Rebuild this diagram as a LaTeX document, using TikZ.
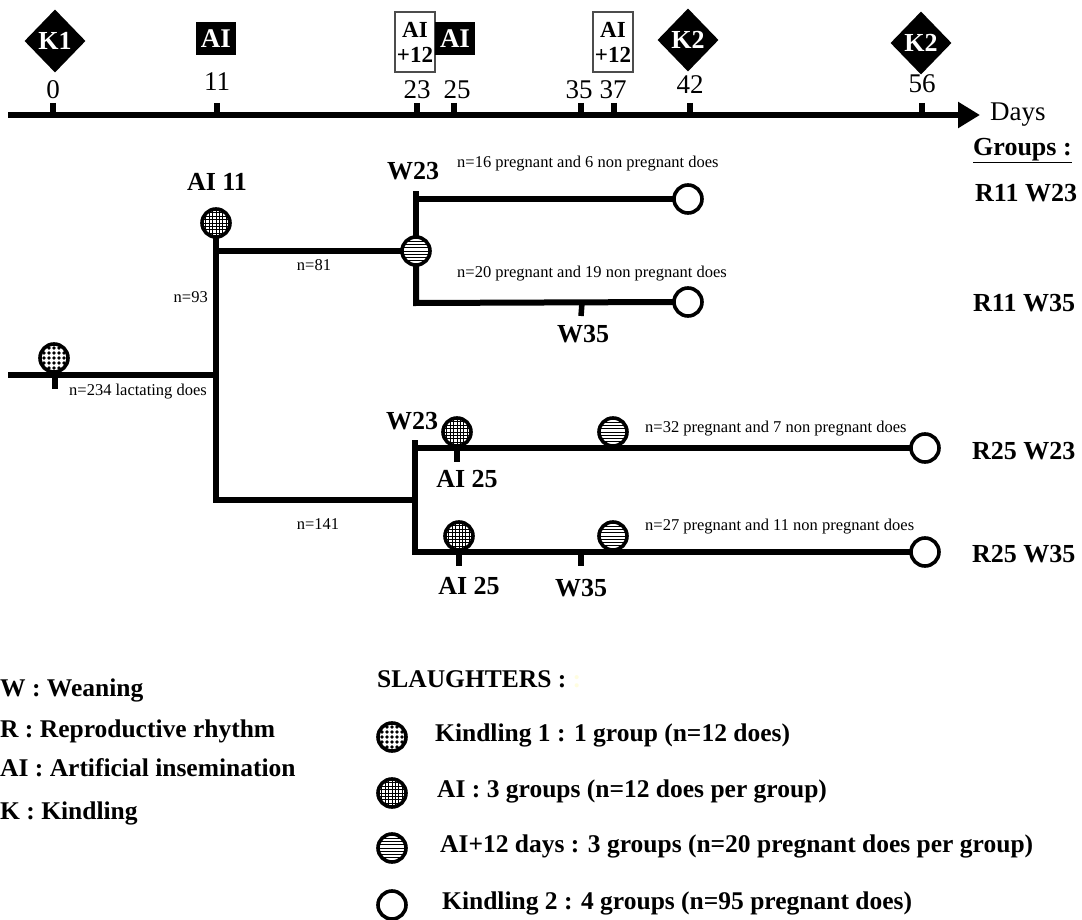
\documentclass[tikz,border=0pt]{standalone}
\usepackage{fontspec}
\setmainfont{Liberation Serif}
\usetikzlibrary{shapes.geometric,arrows.meta}
\begin{document}
\begin{tikzpicture}[x=1pt,y=-1pt,
  small/.style={font=\fontsize{16.5}{19}\selectfont, inner sep=0pt, text height=0.7em, text depth=0.2em},
  big/.style={font=\bfseries\fontsize{26}{30}\selectfont, inner sep=0pt, text height=0.66em, text depth=0pt},
  num/.style={font=\fontsize{27}{30}\selectfont, inner sep=0pt, text height=0.66em, text depth=0pt},
  leg/.style={font=\bfseries\fontsize{25.5}{30}\selectfont, inner sep=0pt, anchor=west, text height=0.66em, text depth=0pt},
  kbox/.style={diamond, fill=black, text=white, minimum width=61pt, minimum height=63pt, inner sep=0pt, font=\bfseries\fontsize{26}{26}\selectfont},
  aibox/.style={rectangle, fill=black, text=white, minimum width=40pt, minimum height=33pt, inner sep=0pt, font=\bfseries\fontsize{27}{27}\selectfont},
  aitbox/.style={rectangle, draw=black!70, line width=1.2pt, fill=white, minimum width=40pt, minimum height=60pt, inner sep=0pt, align=center, font=\bfseries\fontsize{23}{25}\selectfont},
  tline/.style={line width=6pt, line cap=rect},
  tick/.style={line width=5.5pt},
  slot/.style={circle, draw=black, line width=3.6pt, minimum size=28pt, inner sep=0pt, fill=white},
  kone/.style={slot, path picture={\foreach \i in {-3,...,3} \foreach \j in {-3,...,3} \fill[black] (path picture bounding box.center) ++(\i*5pt,\j*5pt) circle (1.8pt);}},
  aione/.style={slot, path picture={\foreach \i in {-5,...,5} {\draw[black, line width=0.7pt] ([xshift=\i*3.4pt]path picture bounding box.north) -- ([xshift=\i*3.4pt]path picture bounding box.south); \draw[black, line width=0.7pt] ([yshift=\i*3.4pt]path picture bounding box.west) -- ([yshift=\i*3.4pt]path picture bounding box.east);}}},
  aitw/.style={slot, path picture={\foreach \i in {-5,...,5} {\draw[black, line width=0.7pt] ([yshift=\i*3.2pt]path picture bounding box.west) -- ([yshift=\i*3.2pt]path picture bounding box.east);}}},
  ktwo/.style={slot}
]
\useasboundingbox (0,0) rectangle (1082,920);

% ---------- time line ----------
\coordinate (tl0) at (8,115);
\coordinate (tl1) at (980,115);
\draw[line width=6pt,-{Triangle[length=22pt,width=25pt]}] (tl0) -- (tl1);
\node[num, anchor=west] (days) at (990,117) {Days};
\foreach \x/\nm in {53/t0,217/t11,417/t23,454/t25,581/t35,614/t37,690/t42,922/t56}{
  \coordinate (\nm a) at (\x,103);
  \coordinate (\nm b) at (\x,115);
  \draw[tick] (\nm a) -- (\nm b);
}
\node[num] (l0) at (53,95) {0};
\node[num] (l11) at (217,87) {11};
\node[num] (l23) at (417,95) {23};
\node[num] (l25) at (457,95) {25};
\node[num] (l35) at (579,95) {35};
\node[num] (l37) at (613,95) {37};
\node[num] (l42) at (690,90) {42};
\node[num] (l56) at (922,89) {56};

\node[kbox] (dk1) at (55,41) {K1};
\node[aibox] (dai11) at (216,38.5) {AI};
\node[aitbox] (dait23) at (415,42) {AI\\+12};
\node[aibox] (dai25) at (455,38.5) {AI};
\node[aitbox] (dait37) at (613,42) {AI\\+12};
\node[kbox] (dk42) at (688,40) {K2};
\node[kbox] (dk56) at (921,43) {K2};

% ---------- tree: coordinates ----------
\coordinate (s0) at (11,375);
\coordinate (j0) at (216,375);
\coordinate (j81) at (216,251);
\coordinate (jb) at (216,500);
\coordinate (jc) at (415,500);
\coordinate (u0) at (416,194);
\coordinate (u0b) at (416,199);
\coordinate (u1) at (416,303);
\coordinate (v0) at (415,443);
\coordinate (v0b) at (415,448);
\coordinate (v1) at (415,552);

% ---------- tree: nodes ----------
\node[kone] (ck1) at (54,358) {};
\node[aione] (cai11) at (216,223) {};
\node[aitw] (cst1) at (416,251) {};
\node[ktwo] (ck2a) at (688,199) {};
\node[ktwo] (ck2b) at (688,302) {};
\node[aione] (cai25a) at (457,432) {};
\node[aitw] (cst2) at (613,432) {};
\node[ktwo] (ck2c) at (925,448) {};
\node[aione] (cai25b) at (459,536) {};
\node[aitw] (cst3) at (613,536) {};
\node[ktwo] (ck2d) at (925,552) {};

% ---------- tree: connectors ----------
\draw[tline] (s0) -- (j0);
\draw[tline] (cai11.south) -- (jb) -- (jc);
\draw[tline] (j81) -- (cst1.west);
\draw[tline] (u0) -- (cst1.north);
\draw[tline] (cst1.south) -- (u1) -- (ck2b.west);
\draw[tline] (u0b) -- (ck2a.west);
\draw[tline] (v0) -- (v1) -- (ck2d.west);
\draw[tline] (v0b) -- (ck2c.west);

% ticks on tree
\coordinate (tk1a) at (55,378); \coordinate (tk1b) at (55,389);
\draw[tick] (tk1a) -- (tk1b);
\coordinate (tw1a) at (582,303); \coordinate (tw1b) at (581,316);
\draw[tick] (tw1a) -- (tw1b);
\coordinate (ta1a) at (457,448); \coordinate (ta1b) at (457,462);
\draw[tick] (ta1a) -- (ta1b);
\coordinate (ta2a) at (459,552); \coordinate (ta2b) at (459,566);
\draw[tick] (ta2a) -- (ta2b);
\coordinate (tw2a) at (581,552); \coordinate (tw2b) at (581,566);
\draw[tick] (tw2a) -- (tw2b);

% ---------- tree: labels ----------
\node[big] (lai11) at (217,187) {AI 11};
\node[small, anchor=east] (ln93) at (208,300) {n=93};
\node[small] (ln81) at (314,268) {n=81};
\node[small] (ln234) at (138,393) {n=234 lactating does};
\node[big] (lw23a) at (413,176) {W23};
\node[small, anchor=west] (lna) at (457,165) {n=16 pregnant and 6 non pregnant does};
\node[small, anchor=west] (lnb) at (457,275) {n=20 pregnant and 19 non pregnant does};
\node[big] (lw35a) at (583,339) {W35};
\node[big] (lw23b) at (412,426) {W23};
\node[big] (lai25a) at (467,484) {AI 25};
\node[big] (lai25b) at (469,591) {AI 25};
\node[big] (lw35b) at (581,593) {W35};
\node[small, anchor=west] (lnc) at (645,430) {n=32 pregnant and 7 non pregnant does};
\node[small, anchor=west] (lnd) at (645,528) {n=27 pregnant and 11 non pregnant does};
\node[small] (ln141) at (318,527) {n=141};

% ---------- groups ----------
\node[big, anchor=west] (grp) at (973,152) {\underline{Groups :}};
\node[big, anchor=west] (g1) at (975,198) {R11 W23};
\node[big, anchor=west] (g2) at (973,308) {R11 W35};
\node[big, anchor=west] (g3) at (972,456) {R25 W23};
\node[big, anchor=west] (g4) at (972,559) {R25 W35};

% ---------- legends ----------
\node[leg] (lw) at (0,693) {W : Weaning};
\node[leg] (lr) at (0,734) {R : Reproductive rhythm};
\node[leg] (lai) at (0,773) {AI : Artificial insemination};
\node[leg] (lk) at (0,816) {K : Kindling};

\node[leg] (sl) at (377,684) {SLAUGHTERS : {\color{yellow!12}:}};
\node[kone] (mk1) at (392,737) {};
\node[leg] (tk1) at (435,738) {Kindling 1 : 1 group (n=12 does)};
\node[aione] (mai) at (392,793) {};
\node[leg] (tai) at (437,794) {AI : 3 groups (n=12 does per group)};
\node[aitw] (mait) at (392,848) {};
\node[leg] (tait) at (440,849) {AI+12 days : 3 groups (n=20 pregnant does per group)};
\node[ktwo] (mk2) at (392,905) {};
\node[leg] (tk2) at (442,906) {Kindling 2 : 4 groups (n=95 pregnant does)};
\end{tikzpicture}
\end{document}
